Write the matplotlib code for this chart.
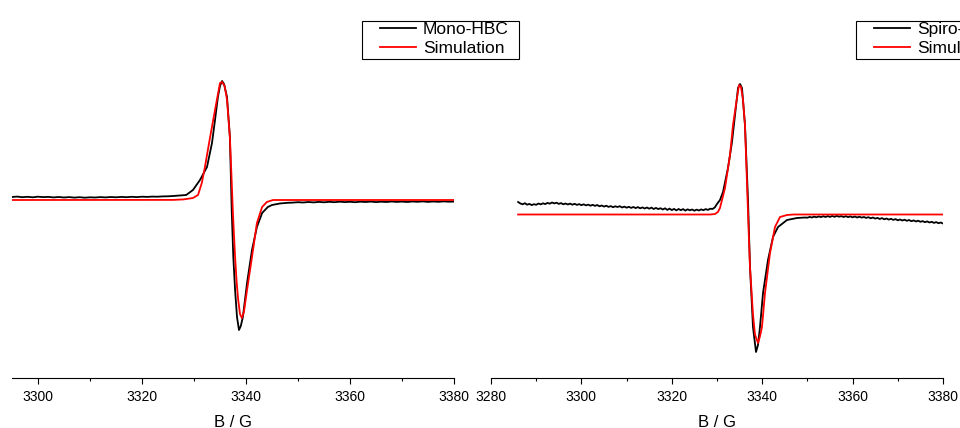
import numpy as np
import matplotlib

matplotlib.use("Agg")
import matplotlib.pyplot as plt
from matplotlib.patches import Rectangle

plt.rcParams["font.family"] = ["Liberation Sans", "DejaVu Sans"]

# ---- Mono-HBC (left panel), signal in arbitrary units ----
MONO_BASE_START, MONO_BASE_STEP = 3295.0, 1.0
mono_base = [3.0, 3.4, 2.8, 3.2, 2.7, 3.3, 2.9, 3.1, 2.6, 3.0, 2.5, 2.9, 2.4, 2.8,
             2.3, 2.7, 2.5, 2.9, 2.6, 3.0, 2.7, 3.1, 2.8, 3.2, 2.9, 3.3, 3.1, 3.4,
             3.3, 3.6, 3.7, 4.0, 4.4]
mono_line_field = [3328.5, 3329.8, 3331.15, 3332.5, 3333.46, 3334.04, 3334.6, 3335.0,
                   3335.4, 3335.77, 3336.35, 3336.9, 3337.25, 3337.56, 3337.9, 3338.27,
                   3338.65, 3339.0, 3339.4, 3340.2, 3341.15, 3342.1, 3343.1, 3344.2,
                   3345.0, 3346.5, 3348.0]
mono_line = [5, 10, 20, 33, 57, 80, 103, 114,
             119, 116, 103, 63, -10, -57, -90, -117,
             -130, -126, -117, -83, -50, -27, -13, -7,
             -5, -3.5, -2.8]
MONO_TAIL_START, MONO_TAIL_STEP = 3349.0, 1.0
mono_tail = [-2.6, -2.2, -2.5, -2.0, -2.4, -1.9, -2.3, -1.8, -2.2, -1.7, -2.1, -1.8,
             -2.2, -1.7, -2.0, -1.6, -2.1, -1.7, -2.0, -1.5, -1.9, -1.6, -2.0, -1.5,
             -1.8, -1.4, -1.9, -1.5, -1.8, -1.4, -1.7, -1.6]

mono_sim_field = [3295.0, 3326.0, 3328.0, 3329.8, 3330.77, 3331.5, 3332.1, 3333.1,
                  3334.04, 3335.0, 3335.4, 3335.9, 3336.35, 3336.9, 3337.2, 3337.5,
                  3337.9, 3338.2, 3338.5, 3338.85, 3339.2, 3339.6, 3340.2, 3341.15,
                  3342.1, 3343.1, 3344.0, 3345.2, 3380.0]
mono_sim = [0, 0.1, 0.6, 2, 5, 17, 33, 63,
            90, 117, 118, 114, 100, 63, 25, -15,
            -57, -82, -100, -114, -118, -112, -90, -57,
            -23, -7, -2, 0, 0]

# ---- Spiro-HBC (right panel) ----
SPIRO_BASE_START, SPIRO_BASE_STEP = 3286.0, 0.5
spiro_base = [12.5, 11.0, 10.2, 11.3, 9.8, 10.6, 9.4, 10.3, 9.7, 11.0, 10.1, 11.2,
              10.4, 11.6, 10.8, 12.0, 11.1, 11.8, 10.6, 11.4, 10.2, 11.0, 10.0, 10.9,
              9.8, 10.7, 9.6, 10.4, 9.3, 10.2, 9.1, 9.9, 8.8, 9.7, 8.6, 9.5,
              8.2, 9.0, 7.9, 8.8, 7.6, 8.4, 7.3, 8.2, 7.5, 8.3, 7.0, 7.9,
              6.8, 7.7, 6.6, 7.5, 6.4, 7.4, 6.2, 7.1, 6.0, 7.0, 5.8, 6.9,
              5.5, 6.6, 5.4, 6.3, 5.0, 6.2, 4.6, 5.9, 4.4, 5.6, 4.1, 5.5,
              4.3, 5.4, 3.9, 5.2, 4.2, 5.0, 3.8, 4.9, 4.0, 5.1, 4.3, 5.4,
              4.6, 5.8, 5.5, 7.0]
spiro_line_field = [3330.0, 3330.66, 3331.33, 3332.43, 3333.32, 3333.98, 3334.65,
                    3335.09, 3335.53, 3336.19, 3336.86, 3337.30, 3337.96, 3338.63,
                    3339.07, 3339.51, 3340.18, 3341.28, 3342.39, 3343.50, 3345.49,
                    3347.70, 3349.5]
spiro_line = [10.5, 14.5, 22.5, 46.5, 72.5, 99.5, 126.5,
              130.5, 126.5, 89.5, 14.5, -52.5, -112.5, -137.5,
              -130.5, -112.5, -78.5, -45.5, -22.5, -12.5, -5.5,
              -3.5, -3.0]
SPIRO_TAIL_START, SPIRO_TAIL_STEP = 3350.0, 0.5
spiro_tail = [-3.2, -2.4, -3.0, -2.1, -2.8, -1.9, -2.6, -1.7, -2.5, -1.6, -2.4, -1.5,
              -2.3, -1.4, -2.2, -1.6, -2.5, -1.7, -2.6, -1.9, -2.8, -2.0, -3.0, -2.2,
              -3.1, -2.5, -3.4, -2.7, -3.8, -3.0, -4.1, -3.4, -4.5, -3.6, -4.8, -4.0,
              -5.1, -4.3, -5.4, -4.6, -5.8, -5.0, -6.0, -5.2, -6.3, -5.5, -6.7, -5.9,
              -7.0, -6.2, -7.3, -6.6, -7.7, -6.9, -8.0, -7.3, -8.4, -7.6, -8.7, -8.0,
              -9.0]

spiro_sim_field = [3286.0, 3328.5, 3329.56, 3330.2, 3330.66, 3331.77, 3332.88, 3333.54,
                   3334.42, 3334.87, 3335.31, 3335.75, 3336.19, 3336.93, 3337.30,
                   3337.96, 3338.4, 3339.07, 3339.5, 3339.95, 3340.62, 3341.73,
                   3342.83, 3343.94, 3345.49, 3347.0, 3380.0]
spiro_sim = [0, 0, 0.5, 2.5, 6.5, 26.5, 59.5, 89.5,
             116.5, 129.5, 127.5, 115, 89.5, -7, -52.5,
             -100, -120, -128.5, -122, -112.5, -78.5, -38.5,
             -12.5, -2.5, -0.5, 0, 0]


def _trace(base_start, base_step, base, line_field, line, tail_start, tail_step, tail):
    base_field = base_start + base_step * np.arange(len(base))
    tail_field = tail_start + tail_step * np.arange(len(tail))
    field = np.concatenate([base_field, line_field, tail_field])
    signal = np.concatenate([base, line, tail])
    return field, signal


W, H = 960, 428
fig = plt.figure(figsize=(W / 100, H / 100), dpi=100)
fig.patch.set_facecolor("white")

panels = [
    dict(rect=(12, 442), xlim=(3295, 3380), ylim=(-178, 200),
         exp=_trace(MONO_BASE_START, MONO_BASE_STEP, mono_base, mono_line_field, mono_line,
                    MONO_TAIL_START, MONO_TAIL_STEP, mono_tail),
         sim=(mono_sim_field, mono_sim), label="Mono-HBC", legend_x=362),
    dict(rect=(491, 452), xlim=(3280, 3380), ylim=(-163.5, 214.5),
         exp=_trace(SPIRO_BASE_START, SPIRO_BASE_STEP, spiro_base, spiro_line_field, spiro_line,
                    SPIRO_TAIL_START, SPIRO_TAIL_STEP, spiro_tail),
         sim=(spiro_sim_field, spiro_sim), label="Spiro-HBC", legend_x=856),
]

for panel in panels:
    left, width = panel["rect"]
    ax = fig.add_axes([left / W, 50 / H, width / W, 378 / H])
    ax.set_facecolor("none")
    exp_line, = ax.plot(*panel["exp"], color="black", linewidth=1.3, label=panel["label"])
    sim_line, = ax.plot(*panel["sim"], color="#ff0000", linewidth=1.3, label="Simulation")
    ax.set_xlim(*panel["xlim"])
    ax.set_ylim(*panel["ylim"])
    for side in ("top", "left", "right"):
        ax.spines[side].set_visible(False)
    ax.spines["bottom"].set_linewidth(0.8)
    ax.set_yticks([])
    ax.set_xticks(np.arange(panel["xlim"][0] + (-panel["xlim"][0]) % 20, panel["xlim"][1] + 1, 20))
    ax.set_xticks(np.arange(panel["xlim"][0] + (-panel["xlim"][0]) % 10, panel["xlim"][1] + 1, 10),
                  minor=True)
    ax.tick_params(axis="x", which="major", direction="out", length=4.5, width=0.8,
                   labelsize=10, pad=4)
    ax.tick_params(axis="x", which="minor", direction="out", length=2.5, width=0.8)
    ax.set_xlabel("B / G", fontsize=12, labelpad=8)

    lx = panel["legend_x"]
    fig.patches.append(Rectangle((lx / W, (H - 59) / H), 157 / W, 38 / H,
                                 transform=fig.transFigure, fill=False,
                                 edgecolor="black", linewidth=0.8))
    ax.legend(handles=[exp_line, sim_line], loc="upper left",
              bbox_to_anchor=((lx + 18) / W, 1 - 22 / H), bbox_transform=fig.transFigure,
              frameon=False, fontsize=12.5, borderpad=0, borderaxespad=0,
              handlelength=2.1, handletextpad=0.36, labelspacing=0.2)

fig.savefig("out.png", dpi=100)
